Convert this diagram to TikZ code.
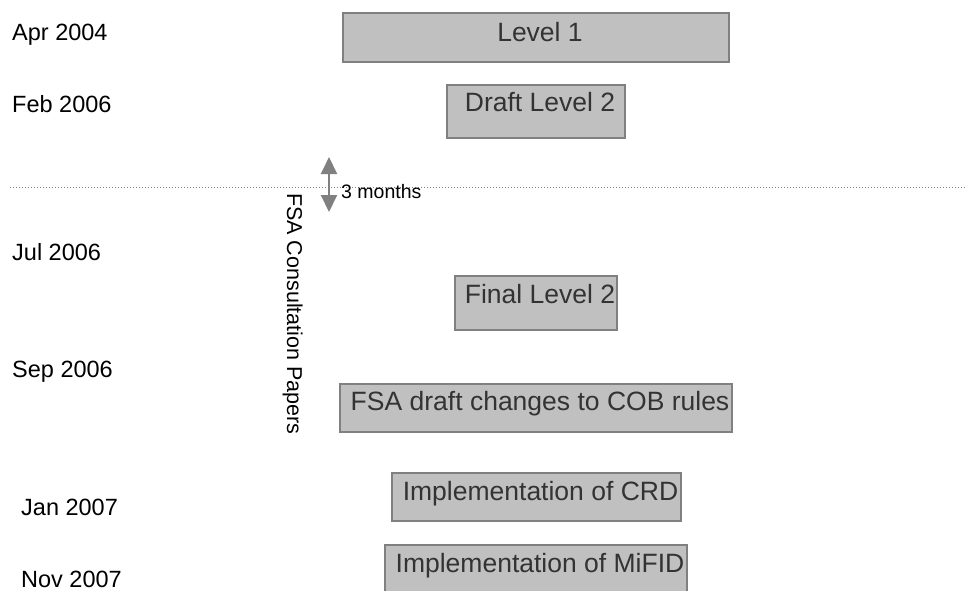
\documentclass[tikz,border=0pt]{standalone}
\usepackage{fontspec}
\setmainfont{Liberation Sans}
\usepackage{tikz}
\usepackage{xcolor}
\usetikzlibrary{arrows.meta}

\definecolor{boxfill}{HTML}{C0C0C0}
\definecolor{boxline}{HTML}{808080}
\definecolor{boxtext}{HTML}{333333}

\begin{document}
\begin{tikzpicture}[x=1pt, y=-1pt,
  datelbl/.style={anchor=base west, inner sep=0pt, font=\fontsize{23.5}{28}\selectfont},
  stagebox/.style={anchor=north, draw=boxline, line width=1.5pt, fill=boxfill,
    text=boxtext, inner xsep=0pt, inner ysep=0pt,
    execute at begin node=\hspace*{8pt},
    font=\fontsize{26.5}{31}\selectfont}]
  \useasboundingbox (0,0) rectangle (971,590);
  % Datoer til venstre
  \node[datelbl] (apr04) at (12,40) {Apr 2004};
  \node[datelbl] (feb06) at (12,112) {Feb 2006};
  \node[datelbl] (jul06) at (12,260) {Jul 2006};
  \node[datelbl] (sep06) at (12,377) {Sep 2006};
  \node[datelbl] (jan07) at (21,515) {Jan 2007};
  \node[datelbl] (nov07) at (21,587) {Nov 2007};
  % Stegene som grå bokser
  \node[stagebox, minimum width=386pt, text height=29pt, text depth=20pt] (lvl1) at (536,12) {Level 1};
  \node[stagebox, minimum width=178pt, text height=27pt, text depth=26pt] (draft) at (536,84) {Draft Level 2};
  \node[stagebox, minimum width=162pt, text height=28pt, text depth=26pt] (final) at (536,275) {Final Level 2};
  \node[stagebox, minimum width=392pt, text height=27pt, text depth=21pt] (cob) at (536,383) {FSA draft changes to COB rules};
  \node[stagebox, minimum width=289pt, text height=28pt, text depth=20pt] (crd) at (536.5,472) {Implementation of CRD};
  \node[stagebox, minimum width=302pt, text height=28pt, text depth=26pt] (mifid) at (536,544) {Implementation of MiFID};
  % Stiplet skillelinje
  \coordinate (cutL) at (10,187);
  \coordinate (cutR) at (966,187);
  \draw[boxline, line width=1pt, dotted] (cutL) -- (cutR);
  % Pil for 3 måneder
  \coordinate (gapT) at (329,157);
  \coordinate (gapB) at (329,212);
  \draw[boxline, line width=2pt, {Triangle[width=16pt,length=17pt]}-{Triangle[width=16pt,length=17pt]}] (gapT) -- (gapB);
  \node[anchor=base west, inner sep=0pt, font=\fontsize{19.5}{23}\selectfont] (gaplbl) at (341,198) {3 months};
  % Loddrett tekst
  \node[anchor=base west, inner sep=0pt, rotate=-90, font=\fontsize{21.5}{26}\selectfont] (fsacp) at (287,193) {FSA Consultation Papers};
\end{tikzpicture}
\end{document}
